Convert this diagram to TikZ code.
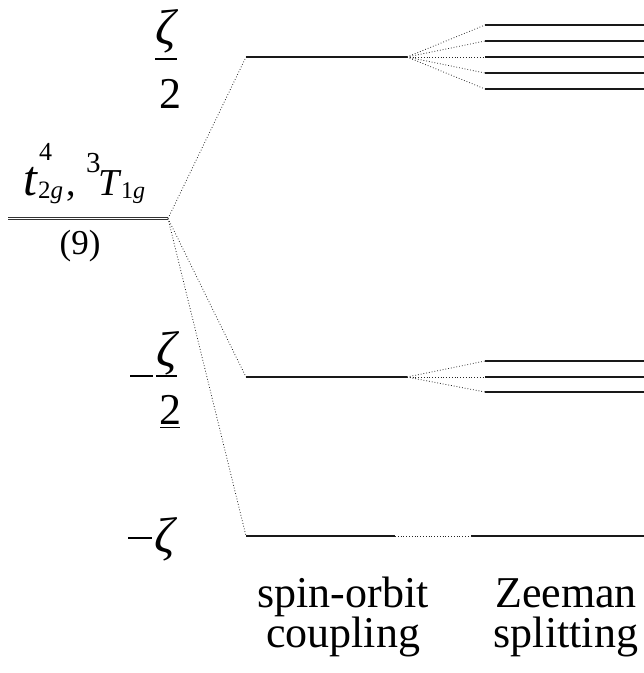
\documentclass[tikz,border=0pt]{standalone}
\usepackage{fontspec}
\setmainfont{Liberation Serif}
\begin{document}
\begin{tikzpicture}[x=1pt,y=-1pt,
  level/.style={line width=1.4pt,black!90},
  link/.style={dotted,line width=0.8pt,black!85},
  lbl/.style={inner sep=0pt,font=\fontsize{44}{40}\selectfont},
  zeta/.style={inner sep=0pt,font=\fontsize{50}{40}\selectfont\itshape},
  piece/.style={inner sep=0pt,anchor=base west}]
\useasboundingbox (0,0) rectangle (644,673);
% ground term
\coordinate (g0) at (8,218.5);
\coordinate (g1) at (168,218.5);
\draw[line width=1pt,black!80] ([yshift=-1.4pt]g0) -- ([yshift=-1.4pt]g1);
\draw[line width=1pt,black!80] ([yshift=1.4pt]g0) -- ([yshift=1.4pt]g1);
% term symbol t_{2g}^4, ^3T_{1g}
\node[piece,font=\fontsize{50}{50}\selectfont\itshape] (tt) at (23,195) {t};
\node[piece,font=\fontsize{26}{26}\selectfont] (t4) at (39,160) {4};
\node[piece,font=\fontsize{25}{25}\selectfont] (t2g) at (38,198) {2\textit{g}};
\node[piece,font=\fontsize{38}{38}\selectfont] (cm) at (66,195) {,};
\node[piece,font=\fontsize{29}{29}\selectfont] (t3) at (86,172) {3};
\node[piece,font=\fontsize{38}{38}\selectfont\itshape] (tT) at (98,195) {T};
\node[piece,font=\fontsize{24}{24}\selectfont] (t1g) at (121,198) {1\textit{g}};
\node[inner sep=0pt,font=\fontsize{35}{38}\selectfont] (deg) at (80,246) {(9)};
% spin-orbit levels
\coordinate (a0) at (246,57);  \coordinate (a1) at (407,57);
\coordinate (b0) at (246,377); \coordinate (b1) at (407,377);
\coordinate (c0) at (246,536); \coordinate (c1) at (395,536);
\coordinate (c2) at (471,536); \coordinate (c3) at (644,536);
\draw[level] (a0) -- (a1);
\draw[level] (b0) -- (b1);
\draw[level] (c0) -- (c1);
\draw[level] (c2) -- (c3);
\draw[link] (c1) -- (c2);
\draw[link] (g1) -- (a0);
\draw[link] (g1) -- (b0);
\draw[link] (g1) -- (c0);
% Zeeman levels (upper)
\foreach \y [count=\i] in {25,41,57,73,89}{
  \coordinate (za\i) at (485,\y);
  \coordinate (ze\i) at (644,\y);
  \draw[level] (za\i) -- (ze\i);
  \draw[link] (a1) -- (za\i);
}
% Zeeman levels (middle)
\foreach \y [count=\i] in {361,377,392}{
  \coordinate (zb\i) at (485,\y);
  \coordinate (zf\i) at (644,\y);
  \draw[level] (zb\i) -- (zf\i);
  \draw[link] (b1) -- (zb\i);
}
% energy labels
\node[zeta] (z1) at (166,31) {ζ};
\coordinate (f1a) at (155,59); \coordinate (f1b) at (177,59);
\draw[line width=1.2pt] (f1a) -- (f1b);
\node[lbl] (t1) at (170,94) {2};
\coordinate (m2a) at (130,376); \coordinate (m2b) at (153,376);
\draw[line width=2pt] (m2a) -- (m2b);
\node[zeta] (z2) at (167,353) {ζ};
\coordinate (f2a) at (156,376); \coordinate (f2b) at (177,376);
\draw[line width=1.2pt] (f2a) -- (f2b);
\node[lbl] (t2) at (170,410) {2};
\coordinate (u2a) at (160,427.5); \coordinate (u2b) at (180,427.5);
\draw[line width=0.8pt] (u2a) -- (u2b);
\coordinate (m3a) at (128,538); \coordinate (m3b) at (152,538);
\draw[line width=2pt] (m3a) -- (m3b);
\node[zeta] (z3) at (165,539) {ζ};
% captions
\node[lbl,align=center,anchor=base] (so) at (343,647) {spin-orbit\\coupling};
\node[lbl,align=center,anchor=base] (zs) at (566,647) {Zeeman\\splitting};
\end{tikzpicture}
\end{document}
